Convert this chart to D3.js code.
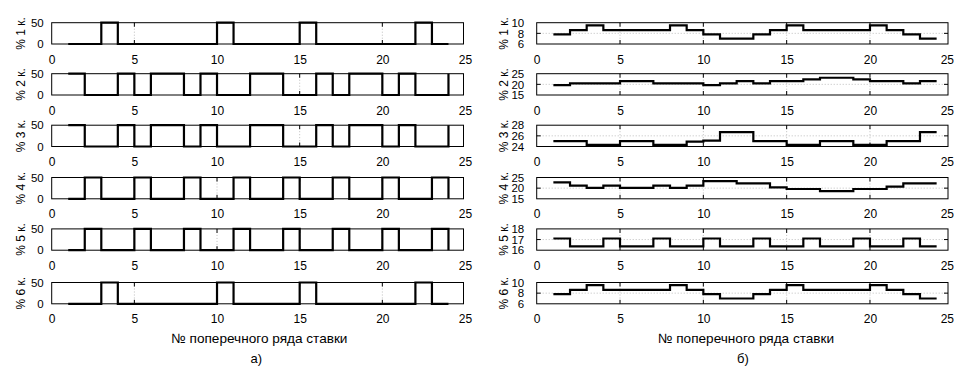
<!DOCTYPE html>
<html><head><meta charset="utf-8">
<script src="https://cdn.jsdelivr.net/npm/d3@7"></script>
<style>html,body{margin:0;padding:0;background:#fff;overflow:hidden}</style>
</head><body><svg id="c" width="954" height="369"></svg>
<script>
// ---------- data ----------
const rowNumbers = [1,2,3,4,5,6,7,8,9,10,11,12,13,14,15,16,17,18,19,20,21,22,23,24];
const xTickValues = [0,5,10,15,20,25];
const panelLabels = ["% 1 к.","% 2 к.","% 3 к.","% 4 к.","% 5 к.","% 6 к."];
const xTitle = "№ поперечного ряда ставки";
const captionLeft = "а)";
const captionRight = "б)";

// a) left column (0 / 50 %)
const left1 = [0,0,50,0,0,0,0,0,0,50,0,0,0,0,50,0,0,0,0,0,0,50,0,0];
const left2 = [50,0,0,50,0,50,50,0,50,0,0,50,50,0,0,50,0,50,50,0,50,0,0,50];
const left3 = [50,0,0,50,0,50,50,0,50,0,0,50,50,0,0,50,0,50,50,0,50,0,0,50];
const left4 = [0,50,0,0,50,0,0,50,0,0,50,0,0,50,0,0,50,0,0,50,0,0,50,0];
const left5 = [0,50,0,0,50,0,0,50,0,0,50,0,0,50,0,0,50,0,0,50,0,0,50,0];
const left6 = [0,0,50,0,0,0,0,0,0,50,0,0,0,0,50,0,0,0,0,0,0,50,0,0];
const leftDomain = [0,50];
const leftTicks = [0,50];

// б) right column
const right1 = [7.8,8.6,9.5,8.6,8.6,8.6,8.6,9.5,8.6,7.8,7.0,7.0,7.8,8.6,9.5,8.6,8.6,8.6,8.6,9.5,8.6,7.8,7.0,7.0];
const right2 = [19.6,20.5,20.5,20.5,21.5,21.5,20.5,20.5,20.5,19.6,20.5,21.5,20.5,21.5,21.5,22.3,23.1,23.1,22.3,21.5,21.5,20.5,21.5,21.5];
const right3 = [25.0,25.0,24.3,24.3,25.0,25.0,24.3,24.3,24.9,25.1,26.7,26.7,25.0,25.0,24.3,24.3,25.0,25.0,24.3,24.3,25.0,25.0,26.7,26.7];
const right4 = [22.7,21.2,20.1,21.2,20.1,20.1,21.2,20.1,21.2,23.3,23.3,22.2,22.2,20.4,19.6,19.6,18.6,18.6,19.6,19.6,20.7,22.2,22.2,22.2];
const right5 = [17.1,16.35,16.35,17.1,16.35,16.35,17.1,16.35,16.35,17.1,16.35,16.35,17.1,16.35,16.35,17.1,16.35,16.35,17.1,16.35,16.35,17.1,16.35,16.35];
const right6 = [7.8,8.6,9.5,8.6,8.6,8.6,8.6,9.5,8.6,7.8,7.0,7.0,7.8,8.6,9.5,8.6,8.6,8.6,8.6,9.5,8.6,7.8,7.0,7.0];
const rightDomains = [[6,10],[15,25],[24,28],[15,25],[16,18],[6,10]];
const rightTicks = [[6,8,10],[15,20,25],[24,26,28],[15,20,25],[16,17,18],[6,8,10]];

// ---------- layout ----------
const FONT = "'Liberation Sans', Arial, Helvetica, sans-serif";
const W = 954;
const rowTops = [22.7, 73.7, 125.2, 177.5, 228.9, 282.5];
const rowH = 21.3;
const cols = [
  {x0: 51.7, x25: 465, boxRight: 463.5, labelGap: 8, ylabX: 20.5, series: [left1,left2,left3,left4,left5,left6],
   domains: d3.range(6).map(()=>leftDomain), ticks: d3.range(6).map(()=>leftTicks), caption: captionLeft},
  {x0: 536.7, x25: 953.3, boxRight: 948, labelGap: 12.5, ylabX: 504, series: [right1,right2,right3,right4,right5,right6],
   domains: rightDomains, ticks: rightTicks, caption: captionRight}
];

const svg = d3.select("#c");
svg.append("rect").attr("width",W).attr("height",369).attr("fill","#fff");

cols.forEach(col => {
  const x = d3.scaleLinear().domain([0,25]).range([col.x0, col.x25]);
  col.series.forEach((vals, i) => {
    const top = rowTops[i], bot = top + rowH;
    const y = d3.scaleLinear().domain(col.domains[i]).range([bot, top]);
    const g = svg.append("g");
    const inX = xTickValues.filter(t => x(t) > col.x0 + 0.5 && x(t) < col.boxRight - 0.5);
    const inY = col.ticks[i].filter(t => y(t) < bot - 0.5 && y(t) > top + 0.5);
    // grid
    g.selectAll(".gx").data(inX).join("line")
      .attr("x1", d => x(d)).attr("x2", d => x(d)).attr("y1", top).attr("y2", bot)
      .attr("stroke", "#bdbdbd").attr("stroke-width", 1).attr("stroke-dasharray", "1,2");
    g.selectAll(".gy").data(inY).join("line")
      .attr("x1", col.x0).attr("x2", col.boxRight).attr("y1", d => y(d)).attr("y2", d => y(d))
      .attr("stroke", "#bdbdbd").attr("stroke-width", 1).attr("stroke-dasharray", "1,2");
    // box
    g.append("rect").attr("x", col.x0).attr("y", top).attr("width", col.boxRight - col.x0).attr("height", rowH)
      .attr("fill", "none").attr("stroke", "#000").attr("stroke-width", 1);
    // inward ticks
    const tl = 4;
    inX.forEach(t => {
      g.append("line").attr("x1", x(t)).attr("x2", x(t)).attr("y1", top).attr("y2", top + tl).attr("stroke","#000");
      g.append("line").attr("x1", x(t)).attr("x2", x(t)).attr("y1", bot).attr("y2", bot - tl).attr("stroke","#000");
    });
    inY.forEach(t => {
      g.append("line").attr("x1", col.x0).attr("x2", col.x0 + tl).attr("y1", y(t)).attr("y2", y(t)).attr("stroke","#000");
      g.append("line").attr("x1", col.boxRight).attr("x2", col.boxRight - tl).attr("y1", y(t)).attr("y2", y(t)).attr("stroke","#000");
    });
    // stairs
    const line = d3.line().x((d, j) => x(rowNumbers[j])).y(d => y(d)).curve(d3.curveStepAfter);
    g.append("path").datum(vals).attr("d", line).attr("fill", "none")
      .attr("stroke", "#000").attr("stroke-width", 2.2).attr("stroke-linejoin", "miter").attr("stroke-linecap", "butt");
    // x axis labels
    const ax = g.append("g").attr("transform", `translate(0,${bot})`)
      .call(d3.axisBottom(x).tickValues(xTickValues).tickFormat(d3.format("d")).tickSize(0).tickPadding(11));
    ax.select(".domain").remove();
    ax.selectAll("text").attr("font-family", FONT).attr("font-size", 12).attr("fill", "#000");
    // keep the last label inside the page
    ax.selectAll(".tick").each(function(d) {
      if (x(d) + 7 > W) {
        d3.select(this).select("text").attr("text-anchor", "end").attr("x", W - 0.5 - x(d));
      }
    });
    // y axis labels
    const ay = g.append("g").attr("transform", `translate(${col.x0},0)`)
      .call(d3.axisLeft(y).tickValues(col.ticks[i]).tickFormat(d3.format("d")).tickSize(0).tickPadding(col.labelGap));
    ay.select(".domain").remove();
    ay.selectAll("text").attr("font-family", FONT).attr("font-size", 11.5).attr("fill", "#000");
    // y label
    g.append("text").attr("transform", `translate(${col.ylabX},${(top + bot) / 2}) rotate(-90)`)
      .attr("text-anchor", "middle").attr("dominant-baseline", "central")
      .attr("font-family", FONT).attr("font-size", 12).text(panelLabels[i]);
  });
  const cx = (col.x0 + col.x25) / 2;
  svg.append("text").attr("x", cx + 1).attr("y", 343).attr("text-anchor", "middle")
    .attr("font-family", FONT).attr("font-size", 13.6).text(xTitle);
  svg.append("text").attr("x", cx - 2).attr("y", 363).attr("text-anchor", "middle")
    .attr("font-family", FONT).attr("font-size", 13).text(col.caption);
});
</script></body></html>
